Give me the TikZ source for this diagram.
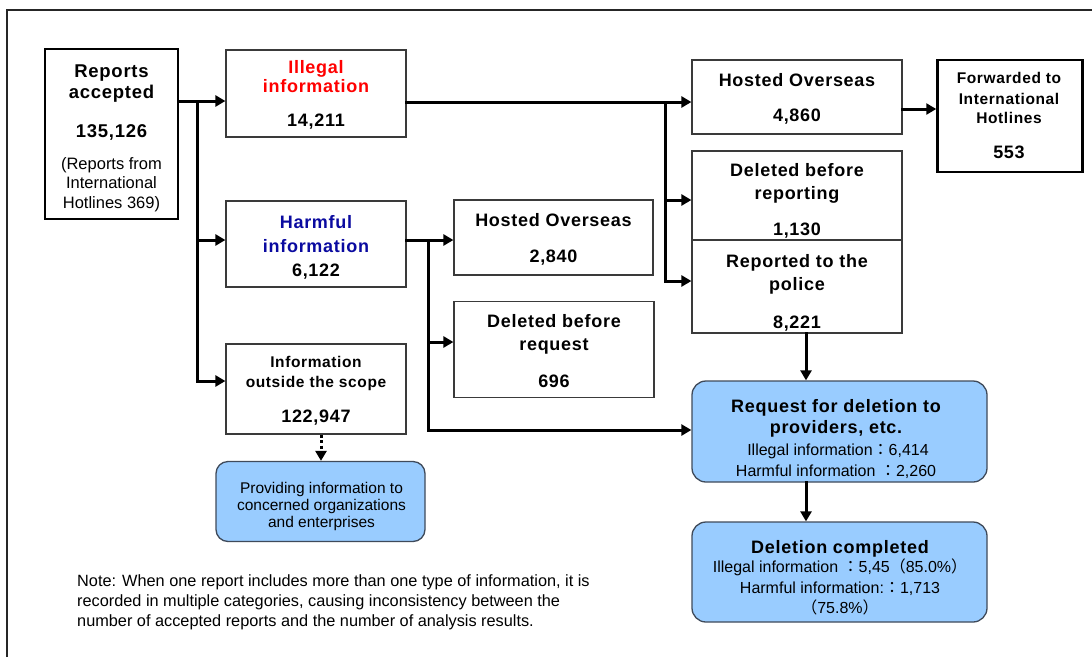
\documentclass[tikz,border=0pt]{standalone}
\usepackage{fontspec}
\setmainfont{Liberation Sans}
\newfontfamily\widefont{Liberation Sans}[LetterSpace=4]
\newfontfamily\cjkfont{Noto Sans CJK JP}
\usetikzlibrary{arrows.meta}
\definecolor{boxblue}{HTML}{99CCFF}
\definecolor{rbord}{HTML}{3F4A5A}
\definecolor{hblue}{HTML}{0A0AA0}
\definecolor{bgray}{HTML}{3A3A3A}
\newcommand\bt[1][18]{\widefont\bfseries\fontsize{#1}{#1}\selectfont}
\newcommand\rt[1][16]{\fontsize{#1}{#1}\selectfont}
\newcommand\fw[1]{{\cjkfont #1}}
\begin{document}
\begin{tikzpicture}[x=1pt,y=-1pt,
  box/.style={draw=bgray,line width=1.2pt,fill=white,inner sep=0pt},
  thickbox/.style={draw=black,line width=2.5pt,fill=white,inner sep=0pt},
  rbox/.style={draw=rbord,line width=1.3pt,fill=boxblue,rounded corners=14pt,inner sep=0pt},
  txt/.style={inner sep=0pt,anchor=base},
  conn/.style={line width=3pt,line cap=rect,line join=miter},
  arr/.style={conn,-{Triangle[length=10pt,width=11pt]}},
  darr/.style={line width=3pt,dash pattern=on 3pt off 2.5pt,-{Triangle[length=10pt,width=11pt]}}]
\useasboundingbox (0,0) rectangle (1092,657);
\fill[white] (0,0) rectangle (1092,657);
\draw[line width=2pt,black!85] (7,657) -- (7,10) -- (1092,10);

% boxes
\node[thickbox,minimum width=133pt,minimum height=170pt] (rep) at (111.5,134) {};
\node[box,minimum width=180pt,minimum height=87pt] (ill) at (316,93.5) {};
\node[box,minimum width=180pt,minimum height=86pt] (harm) at (316,244) {};
\node[box,minimum width=180pt,minimum height=90pt] (out) at (316,389) {};
\node[rbox,rounded corners=12pt,minimum width=209pt,minimum height=80pt] (prov) at (320.5,501.5) {};
\node[box,minimum width=199pt,minimum height=75pt] (ho2) at (553.5,237.5) {};
\node[box,minimum width=200pt,minimum height=96pt] (dbr) at (554,349.5) {};
\node[box,minimum width=210pt,minimum height=74pt] (ho1) at (797,97) {};
\node[box,minimum width=210pt,minimum height=89pt] (dbrep) at (797,195.5) {};
\node[box,minimum width=210pt,minimum height=93pt] (pol) at (797,286.5) {};
\node[thickbox,minimum width=145pt,minimum height=112pt] (fwd) at (1010,116) {};
\node[rbox,minimum width=295pt,minimum height=101pt] (req) at (839.5,431.5) {};
\node[rbox,minimum width=295pt,minimum height=100pt] (del) at (839.5,572) {};

% texts
\node[txt] (rep1) at (111.5,77) {\bt[18.5]Reports};
\node[txt] (rep2) at (111.5,98) {\bt[18.5]accepted};
\node[txt] (rep3) at (111.5,137) {\bt[18.5]135,126};
\node[txt] (rep4) at (111.5,169) {\rt[16.5](Reports from};
\node[txt] (rep5) at (111.5,188) {\rt[16.5]International};
\node[txt] (rep6) at (111.5,208) {\rt[16.5]Hotlines 369)};

\node[txt,text=red] (ill1) at (316,73) {\bt Illegal};
\node[txt,text=red] (ill2) at (316,92) {\bt information};
\node[txt] (ill3) at (316,126) {\bt 14,211};

\node[txt,text=hblue] (harm1) at (316,228) {\bt Harmful};
\node[txt,text=hblue] (harm2) at (316,252) {\bt information};
\node[txt] (harm3) at (316,276) {\bt 6,122};

\node[txt] (out1) at (316,367) {\bt[15.5]Information};
\node[txt] (out2) at (316,387) {\bt[15.5]outside the scope};
\node[txt] (out3) at (316,422) {\bt 122,947};

\node[txt] (prov1) at (321.5,493) {\rt[15.5]Providing information to};
\node[txt] (prov2) at (321.5,510) {\rt[15.5]concerned organizations};
\node[txt] (prov3) at (321.5,527) {\rt[15.5]and enterprises};

\node[txt] (ho21) at (553.5,226) {\bt Hosted Overseas};
\node[txt] (ho22) at (553.5,262) {\bt 2,840};

\node[txt] (dbr1) at (554,327) {\bt Deleted before};
\node[txt] (dbr2) at (554,350) {\bt request};
\node[txt] (dbr3) at (554,387) {\bt 696};

\node[txt] (ho11) at (797,86) {\bt Hosted Overseas};
\node[txt] (ho12) at (797,121) {\bt 4,860};

\node[txt] (dbrep1) at (797,176) {\bt Deleted before};
\node[txt] (dbrep2) at (797,199) {\bt reporting};
\node[txt] (dbrep3) at (797,235) {\bt 1,130};

\node[txt] (pol1) at (797,267) {\bt Reported to the};
\node[txt] (pol2) at (797,290) {\bt police};
\node[txt] (pol3) at (797,328) {\bt 8,221};

\node[txt] (fwd1) at (1009,83) {\bt[15.5]Forwarded to};
\node[txt] (fwd2) at (1009,104) {\bt[15.5]International};
\node[txt] (fwd3) at (1009,123) {\bt[15.5]Hotlines};
\node[txt] (fwd4) at (1009,158) {\bt 553};

\node[txt] (req1) at (836,412) {\bt Request for deletion to};
\node[txt] (req2) at (836,433) {\bt providers, etc.};
\node[txt] (req3) at (838,455) {\rt Illegal information\fw{：}6,414};
\node[txt] (req4) at (836,476) {\rt Harmful information \fw{：}2,260};

\node[txt] (del1) at (840,553) {\bt Deletion completed};
\node[txt] (del2) at (840,572) {\rt Illegal information \fw{：}5,45\fw{（}85.0\%\fw{）}};
\node[txt] (del3) at (840,593) {\rt Harmful information:\fw{：}1,713};
\node[txt] (del4) at (840,613) {\rt\fw{（}75.8\%\fw{）}};

\node[txt,anchor=base west] (note1) at (77,586) {\rt[16.3]Note: When one report includes more than one type of information, it is};
\node[txt,anchor=base west] (note2) at (77,606) {\rt[16.3]recorded in multiple categories, causing inconsistency between the};
\node[txt,anchor=base west] (note3) at (77,626) {\rt[16.3]number of accepted reports and the number of analysis results.};

% connectors
\coordinate (j1) at (197,101);
\coordinate (jh) at (197,240);
\coordinate (j2) at (197,381);
\draw[conn] (rep.east |- j1) -- (j1) -- (j2);
\draw[arr] (j1) -- (ill.west |- j1);
\draw[arr] (jh) -- (harm.west |- jh);
\draw[arr] (j2) -- (out.west |- j2);

\coordinate (k1) at (665,102);
\coordinate (k2) at (665,200);
\coordinate (k3) at (665,281);
\draw[arr] (ill.east |- k1) -- (ho1.west |- k1);
\draw[conn] (k1) -- (k3);
\draw[arr] (k2) -- (dbrep.west |- k2);
\draw[arr] (k3) -- (pol.west |- k3);

\coordinate (m1) at (428,240);
\coordinate (m2) at (428,342);
\coordinate (m3) at (428,430);
\draw[arr] (harm.east |- m1) -- (ho2.west |- m1);
\draw[conn] (m1) -- (m3);
\draw[arr] (m2) -- (dbr.west |- m2);
\draw[arr] (m3) -- (req.west |- m3);

\coordinate (h1) at (920,109);
\draw[arr] (ho1.east |- h1) -- (fwd.west |- h1);

\coordinate (v) at (806,400);
\draw[arr] (pol.south -| v) -- (req.north -| v);
\draw[arr] (req.south -| v) -- (del.north -| v);

\coordinate (p) at (321,450);
\draw[darr] (out.south -| p) -- (prov.north -| p);
\end{tikzpicture}
\end{document}
